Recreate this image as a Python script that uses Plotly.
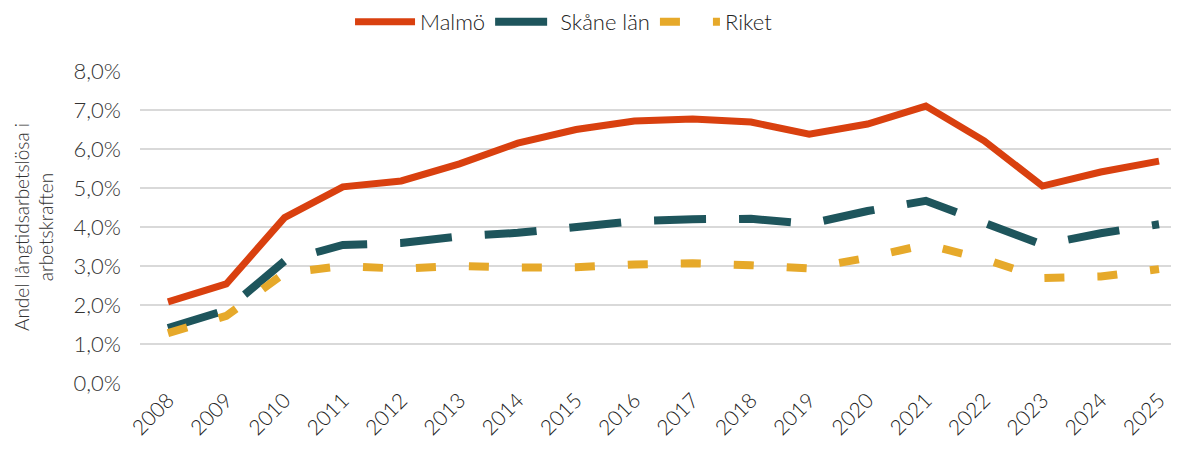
import plotly.graph_objects as go

years = [str(y) for y in range(2008, 2026)]
malmo = [2.08, 2.54, 4.24, 5.03, 5.18, 5.62, 6.15, 6.50, 6.72, 6.77, 6.69, 6.38, 6.64, 7.10, 6.21, 5.05, 5.41, 5.69]
skane = [1.41, 1.87, 3.13, 3.54, 3.59, 3.76, 3.85, 4.02, 4.15, 4.20, 4.21, 4.08, 4.41, 4.67, 4.13, 3.55, 3.84, 4.07]
riket = [1.28, 1.72, 2.82, 3.00, 2.93, 3.00, 2.96, 2.97, 3.04, 3.07, 3.02, 2.94, 3.21, 3.55, 3.18, 2.69, 2.73, 2.92]
yticks = [0, 1, 2, 3, 4, 5, 6, 7, 8]

FONT = "Lato"
fig = go.Figure()
fig.add_trace(go.Scatter(x=years, y=malmo, name="Malmö", mode="lines",
                         line=dict(color="#D9400F", width=7)))
fig.add_trace(go.Scatter(x=years, y=skane, name="Skåne län", mode="lines",
                         line=dict(color="#1E555C", width=8, dash="52px,33px")))
fig.add_trace(go.Scatter(x=years, y=riket, name="Riket", mode="lines",
                         line=dict(color="#E6A92A", width=8, dash="20px,33px")))

fig.update_layout(
    width=1179, height=450,
    margin=dict(l=132, r=0, t=63, b=75, autoexpand=False),
    plot_bgcolor="white", paper_bgcolor="white",
    separators=", ",
    font=dict(family=FONT, size=22, color="#333333", weight=300),
    legend=dict(orientation="h", x=0.405, xanchor="center", y=1.157, yanchor="middle",
                font=dict(size=22, family=FONT, weight=300, color="#222222"),
                itemwidth=60),
    showlegend=True,
)
fig.update_xaxes(type="category", range=[-0.48, 17.48], tickangle=-45,
                 showgrid=False, showline=False, ticks="",
                 tickfont=dict(size=21, family=FONT, color="#222222"))
fig.update_yaxes(range=[0, 8], tickvals=yticks, ticktext=[f"{v},0%" for v in yticks],
                 showgrid=True, gridcolor="#D9D9D9", gridwidth=2, zeroline=False,
                 showline=False, ticks="", ticklabelstandoff=18,
                 tickfont=dict(size=22, family=FONT, color="#333333"),
                 title=dict(text="Andel långtidsarbetslösa i<br>arbetskraften",
                            font=dict(size=19, family=FONT, color="#333333"), standoff=14))

fig.write_html("out.html")
